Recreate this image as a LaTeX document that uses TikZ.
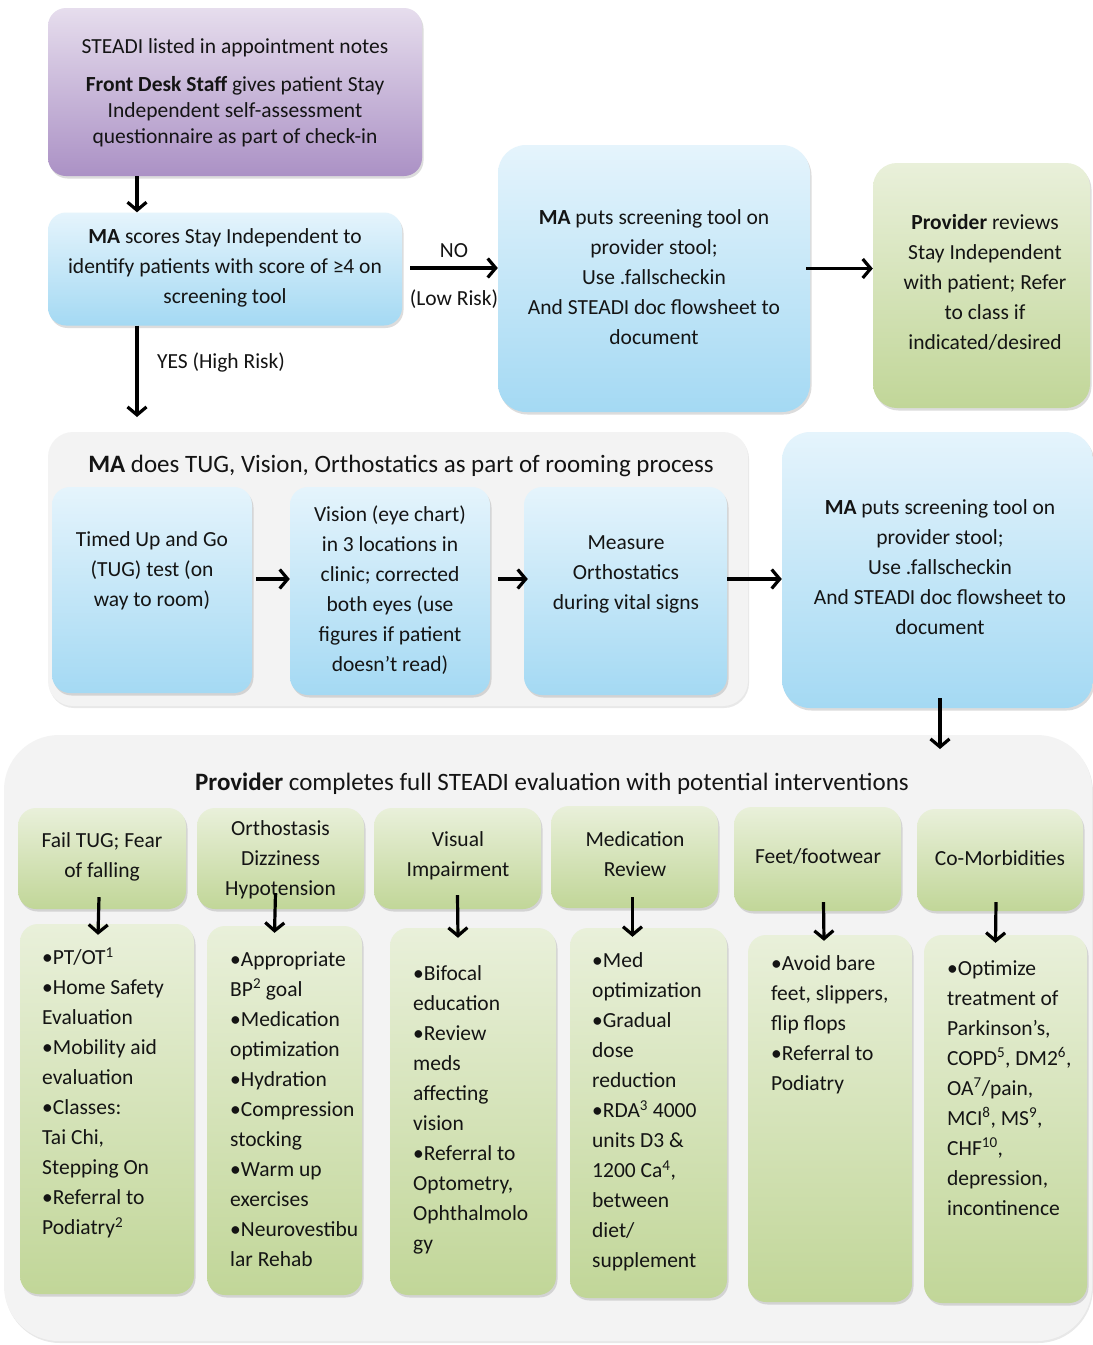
\documentclass[tikz,border=0pt]{standalone}
\usepackage{fontspec}
\setmainfont{Carlito}
\usetikzlibrary{arrows.meta,shadows,calc}
\definecolor{ink}{HTML}{141414}
\definecolor{purpleT}{HTML}{E6DDED}
\definecolor{purpleB}{HTML}{AB91C5}
\definecolor{blueT}{HTML}{E5F4FC}
\definecolor{blueB}{HTML}{A4D9F3}
\definecolor{greenT}{HTML}{E9F0DA}
\definecolor{greenB}{HTML}{C1D698}
\definecolor{contfill}{HTML}{F3F3F3}
\newcommand\sups[1]{\textsuperscript{#1}}
\tikzset{
  txt/.style={font=\fontsize{21.5}{30}\selectfont, text=ink, align=center, inner sep=0pt},
  ltxt/.style={font=\fontsize{21.5}{30}\selectfont, text=ink, align=left, inner sep=0pt, anchor=west},
  ttl/.style={font=\fontsize{25}{30}\selectfont, text=ink, inner sep=0pt},
  shbox/.style={rounded corners=18pt, draw=none, inner sep=0pt,
    drop shadow={shadow xshift=1.5pt, shadow yshift=-2.5pt, opacity=0.3, fill=black!45}},
  purplebox/.style={shbox, top color=purpleT, bottom color=purpleB},
  bluebox/.style={shbox, top color=blueT, bottom color=blueB},
  greenbox/.style={shbox, top color=greenT, bottom color=greenB},
  contbox/.style={draw=none, fill=contfill, inner sep=0pt,
    drop shadow={shadow xshift=1pt, shadow yshift=-2pt, opacity=0.18, fill=black!50}},
  arr/.style={draw=black, line width=3.2pt, -{Straight Barb[length=8pt,width=19pt]}},
}
\begin{document}
\begin{tikzpicture}[x=1pt,y=-1pt]
\useasboundingbox[fill=white] (0,0) rectangle (1093,1345);

% containers
\node[contbox, rounded corners=25pt, minimum width=700pt, minimum height=274pt] (cont1) at (398,569) {};
\node[contbox, rounded corners=55pt, minimum width=1088pt, minimum height=606pt] (cont2) at (548,1038) {};

% top row
\node[purplebox, minimum width=374pt, minimum height=168pt] (purple) at (235,92) {};
\node[bluebox, minimum width=354pt, minimum height=113pt] (ma) at (225,269) {};
\node[bluebox, rounded corners=28pt, minimum width=312pt, minimum height=267pt] (scr1) at (654,278.5) {};
\node[greenbox, rounded corners=24pt, minimum width=217pt, minimum height=245pt] (prov) at (981.5,285.5) {};

% middle row
\node[bluebox, minimum width=200pt, minimum height=206pt] (tug) at (152,590) {};
\node[bluebox, minimum width=200pt, minimum height=208pt] (vis) at (390,591) {};
\node[bluebox, minimum width=203pt, minimum height=208pt] (orth) at (625.5,591) {};
\node[bluebox, rounded corners=28pt, minimum width=311pt, minimum height=276pt] (scr2) at (937.5,570) {};

% headers
\node[greenbox, minimum width=168pt, minimum height=101pt] (h1) at (102,858.5) {};
\node[greenbox, minimum width=167pt, minimum height=101pt] (h2) at (280.5,858.5) {};
\node[greenbox, minimum width=167pt, minimum height=101pt] (h3) at (457.5,858.5) {};
\node[greenbox, minimum width=167pt, minimum height=102pt] (h4) at (634.5,857) {};
\node[greenbox, minimum width=167pt, minimum height=104pt] (h5) at (817.5,859) {};
\node[greenbox, minimum width=166pt, minimum height=102pt] (h6) at (1000,860) {};

% bottom boxes
\node[greenbox, minimum width=174pt, minimum height=370pt] (b1) at (107,1109) {};
\node[greenbox, minimum width=155pt, minimum height=369pt] (b2) at (284.5,1110.5) {};
\node[greenbox, minimum width=166pt, minimum height=367pt] (b3) at (473,1111.5) {};
\node[greenbox, minimum width=157pt, minimum height=370pt] (b4) at (648.5,1113) {};
\node[greenbox, minimum width=164pt, minimum height=367pt] (b5) at (830,1118.5) {};
\node[greenbox, minimum width=163pt, minimum height=368pt] (b6) at (1005.5,1119) {};

% texts
\node[txt, font=\fontsize{21.5}{26}\selectfont] (tpurple) at (235,93)
  {STEADI listed in appointment notes\\[12pt]\textbf{Front Desk Staff} gives patient Stay\\Independent self-assessment\\questionnaire as part of check-in};
\node[txt] (tma) at (225,268) {\textbf{MA} scores Stay Independent to\\identify patients with score of ≥4 on\\screening tool};
\node[txt] (tscr1) at (654,277) {\textbf{MA} puts screening tool on\\provider stool;\\Use .fallscheckin\\And STEADI doc flowsheet to\\document};
\node[txt] (tprov) at (985,282) {\textbf{Provider} reviews\\Stay Independent\\with patient; Refer\\to class if\\indicated/desired};
\node[txt] (tyes) at (221,362) {YES (High Risk)};

\node[ttl] (tcont1) at (401,466) {\textbf{MA} does TUG, Vision, Orthostatics as part of rooming process};
\node[txt] (ttug) at (152,571) {Timed Up and Go\\(TUG) test (on\\way to room)};
\node[txt] (tvis) at (390,590) {Vision (eye chart)\\in 3 locations in\\clinic; corrected\\both eyes (use\\figures if patient\\doesn’t read)};
\node[txt] (torth) at (626,574) {Measure\\Orthostatics\\during vital signs};
\node[txt] (tscr2) at (940,567) {\textbf{MA} puts screening tool on\\provider stool;\\Use .fallscheckin\\And STEADI doc flowsheet to\\document};

\node[ttl] (tcont2) at (552,784) {\textbf{Provider} completes full STEADI evaluation with potential interventions};

\node[txt] (th1) at (102,857) {Fail TUG; Fear\\of falling};
\node[txt] (th2) at (280.5,860) {Orthostasis\\Dizziness\\Hypotension};
\node[txt] (th3) at (458,856) {Visual\\Impairment};
\node[txt] (th4) at (635,854) {Medication\\Review};
\node[txt] (th5) at (818,856) {Feet/footwear};
\node[txt] (th6) at (1000,858) {Co-Morbidities};

\node[ltxt] (tb1) at (42,1093) {•PT/OT\sups{1}\\•Home Safety\\Evaluation\\•Mobility aid\\evaluation\\•Classes:\\Tai Chi,\\Stepping On\\•Referral to\\Podiatry\sups{2}};
\node[ltxt] (tb2) at (230,1109) {•Appropriate\\BP\sups{2} goal\\•Medication\\optimization\\•Hydration\\•Compression\\stocking\\•Warm up\\exercises\\•Neurovestibu\\lar Rehab};
\node[ltxt] (tb3) at (413,1110) {•Bifocal\\education\\•Review\\meds\\affecting\\vision\\•Referral to\\Optometry,\\Ophthalmolo\\gy};
\node[ltxt] (tb4) at (592,1112) {•Med\\optimization\\•Gradual\\dose\\reduction\\•RDA\sups{3} 4000\\units D3 \&\\1200 Ca\sups{4},\\between\\diet/\\supplement};
\node[ltxt] (tb5) at (771,1025) {•Avoid bare\\feet, slippers,\\flip flops\\•Referral to\\Podiatry};
\node[ltxt] (tb6) at (947,1088) {•Optimize\\treatment of\\Parkinson’s,\\COPD\sups{5}, DM2\sups{6},\\OA\sups{7}/pain,\\MCI\sups{8}, MS\sups{9},\\CHF\sups{10},\\depression,\\incontinence};

% free ends
\coordinate (yesend) at (137,417);
\coordinate (c2in) at (940,749);

% connectors
\draw[arr] ([xshift=-98pt]purple.south) -- ([xshift=-88pt]ma.north);
\draw[arr] ([xshift=8pt,yshift=1pt]ma.east) -- ([yshift=1pt]ma.east -| scr1.west)
  node[pos=0.5, above=9pt, txt] (tno) {NO}
  node[pos=0.5, below=20pt, txt] (tlow) {(Low Risk)};
\draw[arr] ([xshift=-88pt]ma.south) -- (yesend);
\draw[arr] ([xshift=-4pt,yshift=10pt]scr1.east) -- ([yshift=10pt]scr1.east -| prov.west);

\draw[arr] ([xshift=4pt,yshift=11pt]tug.east) -- ([yshift=11pt]tug.east -| vis.west);
\draw[arr] ([xshift=8pt,yshift=12pt]vis.east) -- ([yshift=12pt,xshift=4pt]vis.east -| orth.west);
\draw[arr] ([yshift=12pt]orth.east) -- ([yshift=12pt]orth.east -| scr2.west);
\draw[arr] ([xshift=2.5pt,yshift=10pt]scr2.south) -- (c2in);

\draw[arr] ([xshift=-3pt,yshift=12pt]h1.south) -- ([xshift=-9pt,yshift=-11pt]b1.north);
\draw[arr] ([xshift=-5pt,yshift=16pt]h2.south) -- ([xshift=-10pt,yshift=-7pt]b2.north);
\draw[arr] ([xshift=0pt,yshift=14pt]h3.south) -- ([xshift=-15pt,yshift=-10pt]b3.north);
\draw[arr] ([xshift=-2pt,yshift=11pt]h4.south) -- ([xshift=-16pt,yshift=-9pt]b4.north);
\draw[arr] ([xshift=6pt,yshift=9pt]h5.south) -- ([xshift=-6pt,yshift=-6pt]b5.north);
\draw[arr] ([xshift=-4pt,yshift=9pt]h6.south) -- ([xshift=-10pt,yshift=-8pt]b6.north);
\end{tikzpicture}
\end{document}
